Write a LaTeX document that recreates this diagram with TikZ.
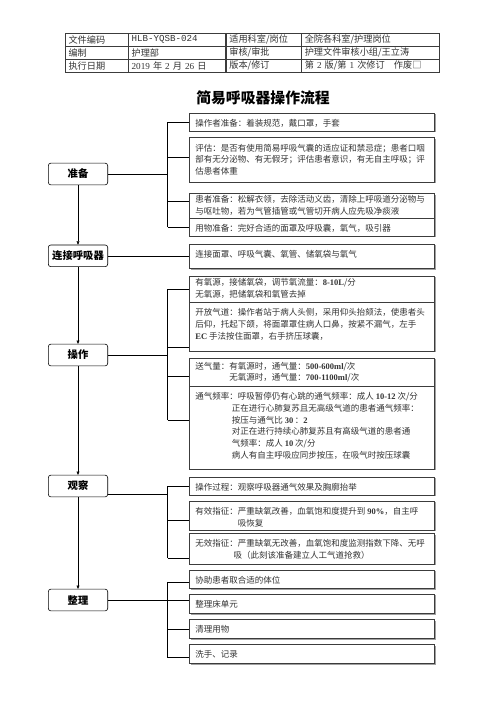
\documentclass[tikz,border=0pt]{standalone}
\usepackage{fontspec}
\setmainfont{Liberation Serif}
\setmonofont{Liberation Mono}
\newfontfamily\cjk{Noto Sans CJK SC}
\usepackage{xcolor}
\definecolor{ink}{HTML}{333333}
\definecolor{frame}{HTML}{3C3C3C}
\definecolor{shade}{HTML}{A0A0A0}
\usetikzlibrary{arrows.meta, positioning, shadows}
\newcommand{\lat}[1]{{\rmfamily\bfseries #1}}
\newcommand{\boxtext}[3][7.5pt]{\parbox[c][#2][t]{280pt}{\vspace*{#1}#3}}

\begin{document}
\begin{tikzpicture}[
  x=1.2pt, y=-1.2pt, font=\cjk, text=ink,
  tabcell/.style={draw=frame, line width=0.5pt, anchor=north west, minimum height=15.2pt, inner xsep=4pt, inner ysep=0pt, text width=#1, align=left, font=\cjk\fontsize{11pt}{13pt}\selectfont},
  stage/.style={draw=black, line width=0.7pt, rounded corners=3pt, minimum width=71.3pt, minimum height=26pt, font=\cjk\bfseries\fontsize{12.4pt}{14pt}\selectfont, text=black},
  stepbox/.style={draw=frame, line width=0.6pt, fill=white, anchor=north west, inner xsep=7pt, inner ysep=0pt, font=\cjk\fontsize{10.2pt}{14pt}\selectfont, drop shadow={shadow xshift=1.2pt, shadow yshift=-1.2pt, fill=shade, opacity=1}},
  link/.style={draw=black, line width=0.6pt},
  flow/.style={link, -{Triangle[length=4pt, width=3.5pt]}},
]
\useasboundingbox (0,0) rectangle (496,702);

% Header table
\node[tabcell=67.2pt] (t11) at (65,33) {文件编码};
\node[tabcell=108.8pt, right=0pt of t11] (t12) {\ttfamily HLB-YQSB-024};
\node[tabcell=82pt, right=0pt of t12] (t13) {适用科室/岗位};
\node[tabcell=157.6pt, right=0pt of t13] (t14) {全院各科室/护理岗位};
\node[tabcell=67.2pt, below=0pt of t11] (t21) {编制};
\node[tabcell=108.8pt, right=0pt of t21] (t22) {护理部};
\node[tabcell=82pt, right=0pt of t22] (t23) {审核/审批};
\node[tabcell=157.6pt, right=0pt of t23] (t24) {护理文件审核小组/王立涛};
\node[tabcell=67.2pt, below=0pt of t21] (t31) {执行日期};
\node[tabcell=108.8pt, right=0pt of t31] (t32) {{\rmfamily 2019} 年 {\rmfamily 2} 月 {\rmfamily 26} 日};
\node[tabcell=82pt, right=0pt of t32] (t33) {版本/修订};
\node[tabcell=157.6pt, right=0pt of t33] (t34) {第 {\rmfamily 2} 版/第 {\rmfamily 1} 次修订\quad 作废□};

\node[font=\cjk\bfseries\fontsize{17.8pt}{20pt}\selectfont, text=black] (title) at (263,98) {简易呼吸器操作流程};

% Stages
\node[stage] (prepare) at (78,174) {准备};
\node[stage] (connect) at (78,255.8) {连接呼吸器};
\node[stage] (operate) at (78,355) {操作};
\node[stage] (observe) at (78,486) {观察};
\node[stage] (tidy) at (78,600) {整理};

\draw[flow] (prepare) -- (connect);
\draw[flow] (connect) -- (operate);
\draw[flow] (operate) -- (observe);
\draw[flow] (observe) -- (tidy);

% Detail boxes
\node[stepbox] (b1) at (189.3,112.5) {\boxtext{22.2pt}{操作者准备：着装规范，戴口罩，手套}};
\node[stepbox] (b2) at (189.3,137.3) {\boxtext{53.6pt}{评估：是否有使用简易呼吸气囊的适应证和禁忌症；患者口咽\\部有无分泌物、有无假牙；评估患者意识，有无自主呼吸；评\\估患者体重}};
\node[stepbox] (b3) at (189.3,193.3) {\boxtext[2pt]{29.6pt}{患者准备：松解衣领，去除活动义齿，清除上呼吸道分泌物与\\与呕吐物，若为气管插管或气管切开病人应先吸净痰液}};
\node[stepbox] (b4) at (189.3,218) {\boxtext{21.6pt}{用物准备：完好合适的面罩及呼吸囊，氧气，吸引器}};
\node[stepbox] (b5) at (189.3,244) {\boxtext{29.2pt}{连接面罩、呼吸气囊、氧管、储氧袋与氧气}};
\node[stepbox] (b6) at (189.3,276) {\boxtext[3pt]{31.2pt}{有氧源，接储氧袋，调节氧流量：\lat{8-10L}/分\\无氧源，把储氧袋和氧管去掉}};
\node[stepbox] (b7) at (189.3,302) {\boxtext{58.8pt}{开放气道：操作者站于病人头侧，采用仰头抬颏法，使患者头\\后仰，托起下颌，将面罩罩住病人口鼻，按紧不漏气，左手\\\lat{EC} 手法按住面罩，右手挤压球囊，}};
\node[stepbox] (b8) at (189.3,357.7) {\boxtext[5pt]{34pt}{送气量：有氧源时，通气量：\lat{500-600ml}/次\\\hspace*{4em}无氧源时，通气量：\lat{700-1100ml}/次}};
\node[stepbox] (b9) at (189.3,386) {\boxtext{99.6pt}{通气频率：呼吸暂停仍有心跳的通气频率：成人 \lat{10-12} 次/分\\\hspace*{4.3em}正在进行心肺复苏且无高级气道的患者通气频率：\\\hspace*{4.3em}按压与通气比 \lat{30}\,：\lat{2}\\\hspace*{4.3em}对正在进行持续心肺复苏且有高级气道的患者通\\\hspace*{4.3em}气频率：成人 \lat{10} 次/分\\\hspace*{4.3em}病人有自主呼吸应同步按压，在吸气时按压球囊}};
\node[stepbox] (b10) at (189.3,477) {\boxtext{21.6pt}{操作过程：观察呼吸器通气效果及胸廓抬举}};
\node[stepbox] (b11) at (189.3,501) {\boxtext{34.8pt}{有效指征：严重缺氧改善，血氧饱和度提升到 \lat{90\%}，自主呼\\\hspace*{5em}吸恢复}};
\node[stepbox] (b12) at (189.3,533.3) {\boxtext{36.8pt}{无效指征：严重缺氧无改善，血氧饱和度监测指数下降、无呼\\\hspace*{4.5em}吸（此刻该准备建立人工气道抢救）}};
\node[stepbox] (b13) at (189.3,570) {\boxtext{22pt}{协助患者取合适的体位}};
\node[stepbox] (b14) at (189.3,594) {\boxtext{23.2pt}{整理床单元}};
\node[stepbox] (b15) at (189.3,619.3) {\boxtext{22.8pt}{清理用物}};
\node[stepbox] (b16) at (189.3,644.3) {\boxtext{22.8pt}{洗手、记录}};

\coordinate (spine) at (167.7,0);

% Branches of 准备
\draw[link] (prepare.east) -- (prepare.east -| spine);
\draw[link] (b1.west -| spine) -- (b4.west -| spine);
\draw[link] (b1.west -| spine) -- (b1.west);
\draw[link] ([yshift=3pt]b2.west -| spine) -- ([yshift=3pt]b2.west);
\draw[link] ([yshift=5.6pt]b3.west -| spine) -- ([yshift=5.6pt]b3.west);
\draw[link] (b4.west -| spine) -- (b4.west);

% 连接呼吸器
\draw[link] (connect.east) -- (connect.east -| b5.west);

% Branches of 操作
\draw[link] (operate.east) -- (operate.east -| spine);
\draw[link] (b6.west -| spine) -- ([yshift=9pt]b9.west -| spine);
\draw[link] (b6.west -| spine) -- (b6.west);
\draw[link] ([yshift=-24.2pt]b7.west -| spine) -- ([yshift=-24.2pt]b7.west);
\draw[link] ([yshift=-4.9pt]b8.west -| spine) -- ([yshift=-4.9pt]b8.west);
\draw[link] ([yshift=9pt]b9.west -| spine) -- ([yshift=9pt]b9.west);

% Branches of 观察
\draw[link] ([yshift=-9.6pt]observe.east) -- ([yshift=-9.6pt]observe.east -| spine);
\draw[link] (b10.west -| spine) -- ([yshift=-10.8pt]b12.west -| spine);
\draw[link] (b10.west -| spine) -- (b10.west);
\draw[link] ([yshift=-5.4pt]b11.west -| spine) -- ([yshift=-5.4pt]b11.west);
\draw[link] ([yshift=-10.8pt]b12.west -| spine) -- ([yshift=-10.8pt]b12.west);

% Branches of 整理
\draw[link] (tidy.east) -- (tidy.east -| b14.west);
\draw[link] ([yshift=-3pt]b13.west -| spine) -- ([yshift=-4.2pt]b16.west -| spine);
\draw[link] ([yshift=-3pt]b13.west -| spine) -- ([yshift=-3pt]b13.west);
\draw[link] (b15.west -| spine) -- (b15.west);
\draw[link] ([yshift=-4.2pt]b16.west -| spine) -- ([yshift=-4.2pt]b16.west);

\end{tikzpicture}
\end{document}
